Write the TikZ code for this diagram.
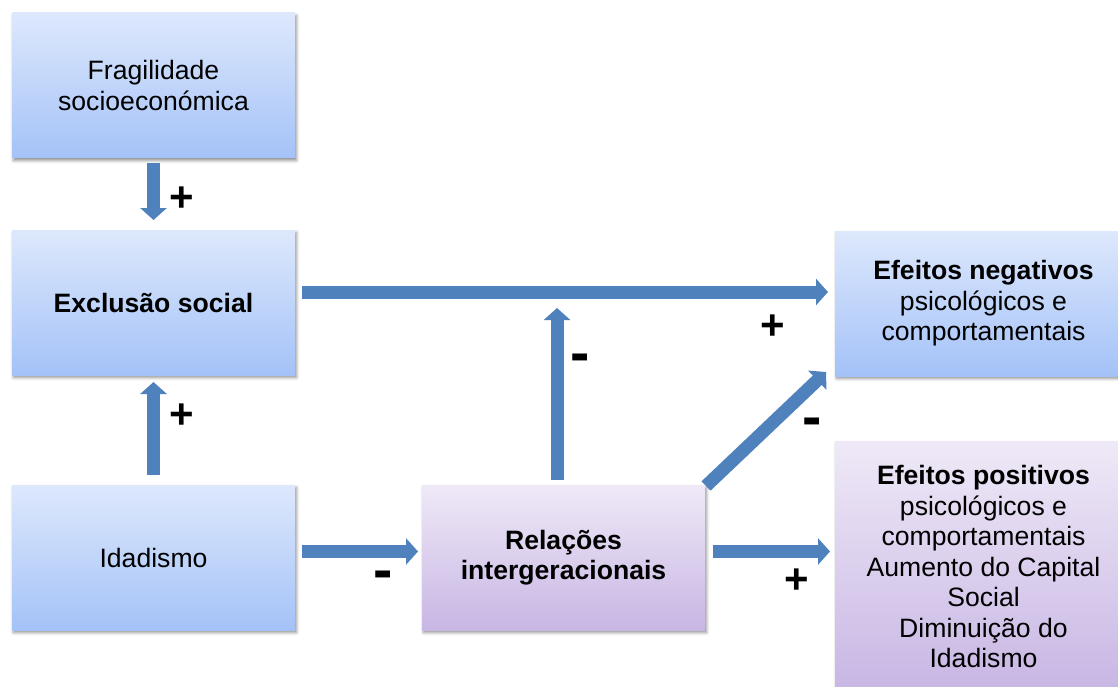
\documentclass[tikz,border=0pt]{standalone}
\usepackage{fontspec}
\setmainfont{Liberation Sans}
\usetikzlibrary{arrows.meta,shadows.blur,calc}
\definecolor{arrblue}{HTML}{4F81BD}
\definecolor{bluetop}{RGB}{221,232,252}
\definecolor{bluebot}{RGB}{164,194,248}
\definecolor{purptop}{RGB}{239,233,247}
\definecolor{purpbot}{RGB}{200,182,228}
\tikzset{
  box/.style={rectangle, minimum width=283pt, minimum height=145pt, inner sep=0pt, outer sep=0pt,
    align=center, font=\fontsize{26.6}{30.5}\selectfont,
    blur shadow={shadow xshift=1.5pt, shadow yshift=-2.5pt, shadow blur radius=3pt, shadow opacity=45}},
  bluebox/.style={box, top color=bluetop, bottom color=bluebot},
  purpbox/.style={box, top color=purptop, bottom color=purpbot},
  bigarrow/.style={draw=arrblue, line width=13pt, -{Triangle[length=12pt,width=26pt]}},
  plussign/.style={anchor=base, inner sep=0pt, font=\fontsize{42}{42}\selectfont\bfseries},
  minussign/.style={anchor=base, inner sep=0pt, font=\fontsize{58}{58}\selectfont\bfseries}
}
\begin{document}
\begin{tikzpicture}[x=1pt,y=-1pt]
\useasboundingbox (0,0) rectangle (1118,687);
\node[bluebox] (frag) at (153.5,85.5) {Fragilidade\\socioeconómica};
\node[bluebox] (excl) at (153.5,302.5) {\textbf{Exclusão social}};
\node[bluebox] (idad) at (153.5,557.5) {Idadismo};
\node[purpbox] (rel) at (563.5,557.5) {\textbf{Relações}\\\textbf{intergeracionais}};
\node[bluebox, minimum width=297pt] (neg) at (983.5,303.5) {\textbf{Efeitos negativos}\\psicológicos e\\comportamentais};
\node[purpbox, minimum width=297pt, minimum height=251pt] (pos) at (983.5,566.5) {\textbf{Efeitos positivos}\\psicológicos e\\comportamentais\\Aumento do Capital\\Social\\Diminuição do\\Idadismo};

\draw[bigarrow, shorten <=5pt, shorten >=10pt] (frag.south) -- (excl.north);
\draw[bigarrow, shorten <=10pt, shorten >=7pt] (idad.north) -- (excl.south);
\draw[bigarrow, shorten <=7pt, shorten >=7pt] ([yshift=10.5pt]excl.east) -- ([yshift=10.5pt]excl.east -| neg.west);
\coordinate (up) at (557,308);
\draw[bigarrow, shorten <=5pt] (rel.north -| up) -- (up);
\draw[bigarrow] ([shift={(1pt,-1pt)}]rel.north east) -- ([shift={(-9pt,4pt)}]neg.south west);
\draw[bigarrow, shorten <=7pt, shorten >=4pt] ([yshift=6pt]idad.east) -- ([yshift=6pt]rel.west);
\draw[bigarrow, shorten <=8pt, shorten >=5pt] ([yshift=6pt]rel.east) -- ([yshift=6pt]rel.east -| pos.west);

\node[plussign] (p1) at (182,211.5) {+};
\node[plussign] (p2) at (182,428.5) {+};
\node[plussign] (p3) at (773,339.5) {+};
\node[plussign] (p4) at (797,593.5) {+};
\node[minussign] (m1) at (580,372) {-};
\node[minussign] (m2) at (812,436) {-};
\node[minussign] (m3) at (383,589) {-};
\end{tikzpicture}
\end{document}
